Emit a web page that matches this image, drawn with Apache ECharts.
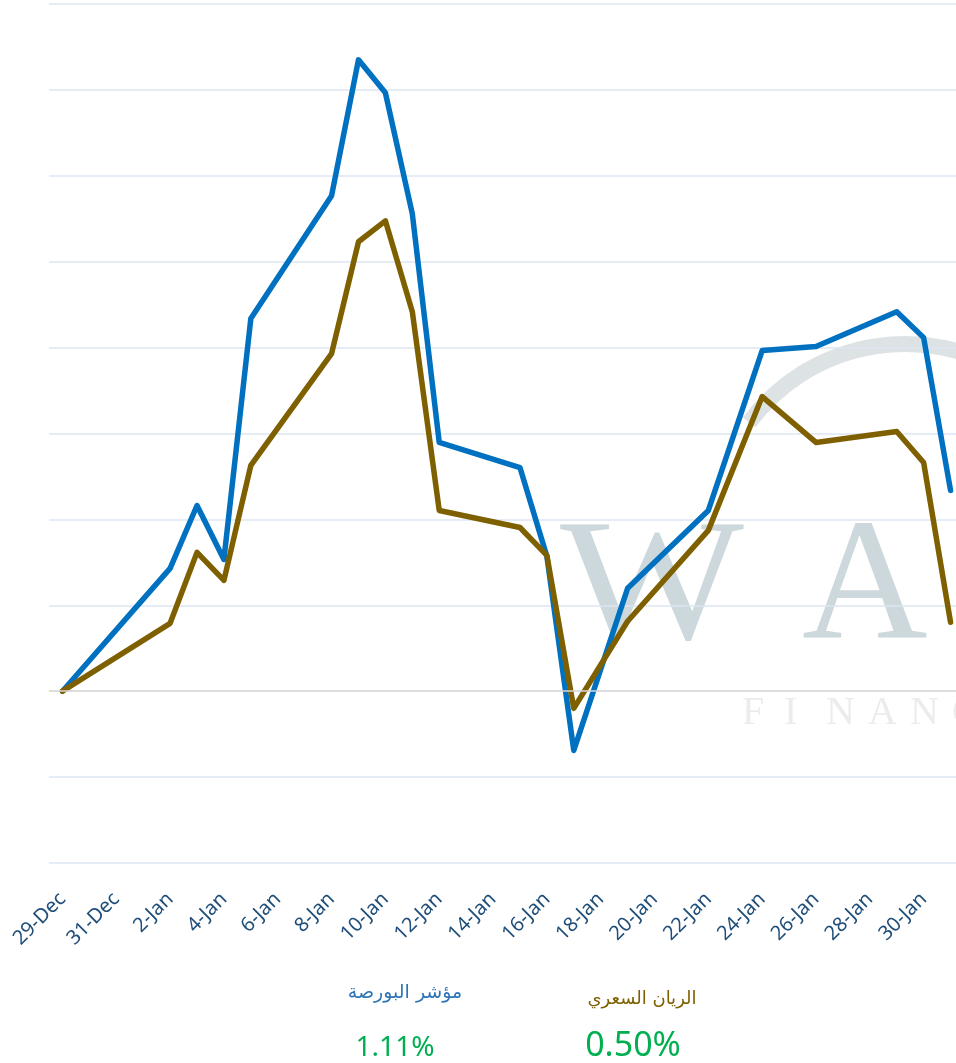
<!DOCTYPE html>
<html>
<head>
<meta charset="utf-8">
<title>مؤشر البورصة / الريان السعري</title>
<script src="https://cdn.jsdelivr.net/npm/echarts@6/dist/echarts.min.js"></script>
<style>
  html, body {
    margin: 0;
    padding: 0;
    background: #ffffff;
  }
  #chart_main {
    width: 956px;
    height: 1063px;
  }
</style>
</head>
<body>
<div id="chart_main"></div>
<script>
// dates on the axis (every calendar day, only some have a value)
var days = [
  "29-Dec", "30-Dec", "31-Dec", "1-Jan", "2-Jan", "3-Jan", "4-Jan", "5-Jan",
  "6-Jan", "7-Jan", "8-Jan", "9-Jan", "10-Jan", "11-Jan", "12-Jan", "13-Jan",
  "14-Jan", "15-Jan", "16-Jan", "17-Jan", "18-Jan", "19-Jan", "20-Jan", "21-Jan",
  "22-Jan", "23-Jan", "24-Jan", "25-Jan", "26-Jan", "27-Jan", "28-Jan", "29-Jan",
  "30-Jan", "31-Jan"
];

// مؤشر البورصة - change since 29-Dec
var indexValues = [
  0, null, null, null, 0.715, 1.081, 0.767, 2.169,
  null, null, 2.884, 3.675, 3.483, 2.779, 1.448, null,
  null, 1.302, 0.785, -0.345, null, 0.599, null, null,
  1.052, null, 1.983, null, 2.006, null, null, 2.209,
  2.058, 1.169
];

// الريان السعري - change since 29-Dec
var rayanValues = [
  0, null, null, null, 0.395, 0.808, 0.645, 1.314,
  null, null, 1.965, 2.616, 2.738, 2.209, 1.052, null,
  null, 0.953, 0.791, -0.1, null, 0.407, null, null,
  0.936, null, 1.715, null, 1.448, null, null, 1.512,
  1.331, 0.401
];

var seriesNames = ["مؤشر البورصة", "الريان السعري"];
var seriesTotals = ["1.11%", "0.50%"];

var blue = "#0070c0";
var brown = "#7f6000";
var green = "#00b050";

var myChart = echarts.init(document.getElementById("chart_main"), null, { renderer: "canvas" });

// faded logo behind the plot
var wmColor = "#cdd8dc";
var watermark = [
  {
    type: "arc",
    z: -10,
    silent: true,
    shape: { cx: 905, cy: 538, r: 194, startAngle: 3.78, endAngle: 6.6, clockwise: true },
    style: { stroke: "#dde3e5", lineWidth: 16, fill: null }
  },
  {
    type: "text",
    z: -10,
    silent: true,
    x: 560,
    y: 505,
    scaleX: 1.12,
    style: { text: "W", font: "174px 'Liberation Serif', serif", fill: wmColor }
  },
  {
    type: "text",
    z: -10,
    silent: true,
    x: 802,
    y: 505,
    style: { text: "A", font: "174px 'Liberation Serif', serif", fill: wmColor }
  }
];
"FINANC".split("").forEach(function(ch, i) {
  watermark.push({
    type: "text",
    z: -10,
    silent: true,
    x: 742 + i * 42,
    y: 693,
    style: { text: ch, font: "40px 'Liberation Serif', serif", fill: "#ececec" }
  });
});

// legend-like captions under the axis
var captions = [
  {
    type: "text",
    x: 405,
    y: 993,
    style: { text: seriesNames[0], font: "19px 'DejaVu Sans', sans-serif", fill: "#2e75b6", align: "center", verticalAlign: "middle" }
  },
  {
    type: "text",
    x: 642,
    y: 999,
    style: { text: seriesNames[1], font: "18px 'DejaVu Sans', sans-serif", fill: brown, align: "center", verticalAlign: "middle" }
  },
  {
    type: "text",
    x: 395,
    y: 1048,
    style: { text: seriesTotals[0], font: "28px 'Noto Sans', sans-serif", fill: green, align: "center", verticalAlign: "middle" }
  },
  {
    type: "text",
    x: 633,
    y: 1046,
    style: { text: seriesTotals[1], font: "34px 'Noto Sans', sans-serif", fill: green, align: "center", verticalAlign: "middle" }
  }
];

var option = {
  backgroundColor: "#ffffff",
  animation: false,
  grid: {
    left: 49,
    top: 4,
    width: 915,
    height: 859,
    outerBoundsMode: "none"
  },
  xAxis: {
    type: "category",
    data: days,
    boundaryGap: true,
    axisLine: { show: false },
    axisTick: { show: false },
    axisLabel: {
      interval: 1,
      rotate: 45,
      margin: 33,
      color: "#1f4e79",
      fontSize: 20,
      fontFamily: "'Noto Sans', sans-serif"
    },
    splitLine: { show: false }
  },
  yAxis: {
    type: "value",
    min: -1,
    max: 4,
    interval: 0.5,
    axisLine: { show: false },
    axisTick: { show: false },
    axisLabel: { show: false },
    splitLine: {
      lineStyle: { color: "#dce6f2", width: 1.5 }
    }
  },
  series: [
    {
      name: seriesNames[0],
      type: "line",
      data: indexValues,
      connectNulls: true,
      showSymbol: false,
      lineStyle: { color: blue, width: 5.5, cap: "round", join: "round" },
      itemStyle: { color: blue },
      //zero line, grey like the axis
      markLine: {
        silent: true,
        symbol: ["none", "none"],
        label: { show: false },
        lineStyle: { color: "#d9d9d9", width: 1.5, type: "solid" },
        data: [{ yAxis: 0 }]
      }
    },
    {
      name: seriesNames[1],
      type: "line",
      data: rayanValues,
      connectNulls: true,
      showSymbol: false,
      lineStyle: { color: brown, width: 5.5, cap: "round", join: "round" },
      itemStyle: { color: brown }
    }
  ],
  graphic: watermark.concat(captions)
};

myChart.setOption(option, true);

window.addEventListener("resize", function() {
  myChart.resize();
});
</script>
</body>
</html>
